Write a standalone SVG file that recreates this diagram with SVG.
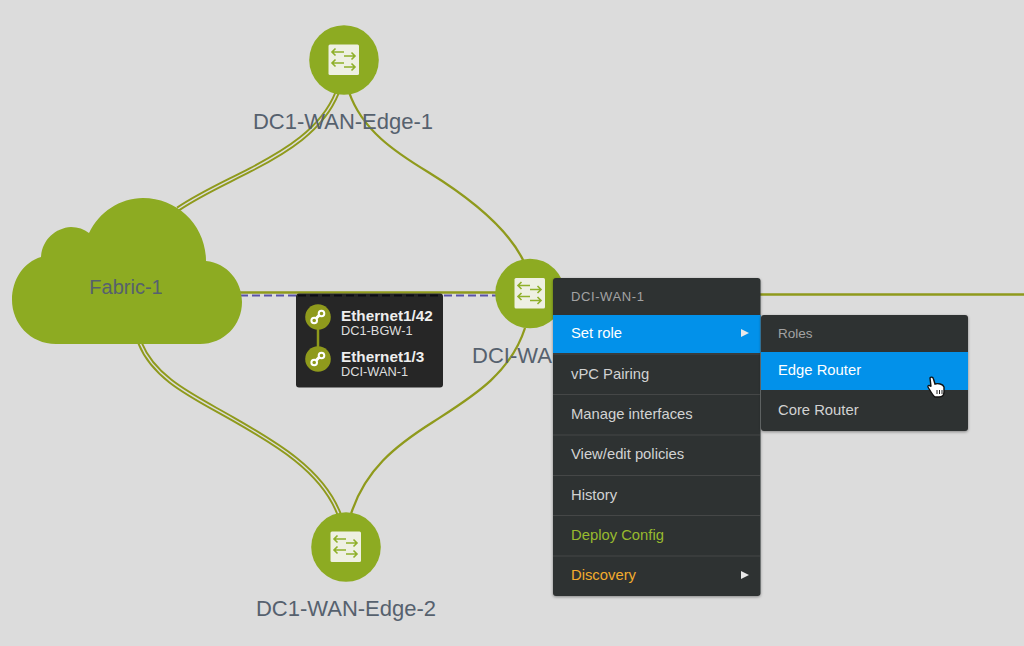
<svg xmlns="http://www.w3.org/2000/svg" width="1024" height="646" viewBox="0 0 1024 646">
<style>
text{font-family:"Liberation Sans",Arial,sans-serif}
.lnk{fill:none;stroke:#8f9a1c;stroke-width:2.300}
.dbl{fill:none;stroke:#8f9a1c;stroke-width:5.200}
.gap{fill:none;stroke:#dcdcdc;stroke-width:1.400}
.lbl{font-size:22px;fill:#56616e;text-anchor:middle}
.mi{font-size:14.800px;fill:#d2d2d2}
.sep{stroke:#454747;stroke-width:1.200}
.ic{fill:none;stroke:#8fb02a;stroke-width:1.600}
</style>
<defs>
<filter id="sh" x="-5%" y="-5%" width="110%" height="110%"><feDropShadow dx="0" dy="1" stdDeviation="1.500" flood-color="#000" flood-opacity=".4"/></filter>
<path id="e1" d="M178 209C200 194 225 183 250 170C285 152 322 130 337 93"/>
<path id="e2" d="M140 343C155 380 195 397 233 419C275 443 322 470 339 514"/>
<g id="sw">
<circle r="34.800" fill="#8dab22"/>
<rect x="-15.500" y="-15.500" width="30.500" height="30.500" rx="1.500" fill="#eef0e2"/>
<path class="ic" d="M-12-8H0M-8.500-11.500L-12-8L-8.500-4.500M0-4H11M7.500-7.500L11-4L7.500-.5M-12 3H0M-8.500-.5L-12 3L-8.500 6.500M0 7H11M7.500 3.500L11 7L7.500 10.500"/>
</g>
<g id="lk">
<circle r="12.800" fill="#8f9a1c"/>
<circle cx="-3.800" cy="3.500" r="2.800" fill="none" stroke="#fff" stroke-width="2"/>
<circle cx="3.500" cy="-3.500" r="2.800" fill="none" stroke="#fff" stroke-width="2"/>
<path d="M-2 1.500L1.500-2" stroke="#fff" stroke-width="3"/>
</g>
</defs>
<rect width="1024" height="646" fill="#dcdcdc"/>
<g id="connectors">
<use href="#e1" class="dbl"/>
<use href="#e1" class="gap"/>
<path class="lnk" d="M349 92C362 130 395 152 428 172C475 201 510 232 524 262"/>
<path class="lnk" d="M240 292.500H500"/>
<path d="M240 295.500H500" fill="none" stroke="#5a52a8" stroke-width="2" stroke-dasharray="8 4"/>
<path class="lnk" d="M760 294.500H1024"/>
<use href="#e2" class="dbl"/>
<use href="#e2" class="gap"/>
<path class="lnk" d="M525 328C510 375 470 398 433 422C395 446 365 470 351 514"/>
</g>
<g id="Fabric-1">
<path fill="#8dab22" d="M56 344C30 344 12 323 12 300C12 279 24 262 41 257C42 240 55 228 71 227C78 227 84 229 89 233C99 212 120 198 143 198C178 198 206 226 206 261C227 263 242 281 242 302C242 325 224 344 200 344Z"/>
<text x="126" y="294" font-size="20" fill="#56616e" text-anchor="middle">Fabric-1</text>
</g>
<g id="DC1-WAN-Edge-1">
<use href="#sw" x="344" y="60"/>
<text class="lbl" x="343" y="129">DC1-WAN-Edge-1</text>
</g>
<g id="DC1-WAN-Edge-2">
<use href="#sw" x="346" y="547"/>
<text class="lbl" x="346" y="616">DC1-WAN-Edge-2</text>
</g>
<g id="DCI-WAN-1">
<use href="#sw" x="530" y="293.500"/>
<text class="lbl" x="472" y="363" style="text-anchor:start">DCI-WAN-1</text>
</g>
<g id="tooltip">
<rect x="296" y="293.500" width="147" height="94" rx="3" fill="#262626"/>
<path d="M298 295.500H441" stroke="#0c0c14" stroke-width="2" stroke-dasharray="8 4"/>
<path d="M318 318V358" stroke="#8f9a1c" stroke-width="2.500"/>
<use href="#lk" x="318" y="317"/>
<use href="#lk" x="318" y="359"/>
<text x="341" y="320.500" font-size="15.300" font-weight="700" fill="#eeeeee">Ethernet1/42</text>
<text x="341" y="334.500" font-size="12.800" fill="#dedede">DC1-BGW-1</text>
<text x="341" y="362" font-size="15.300" font-weight="700" fill="#eeeeee">Ethernet1/3</text>
<text x="341" y="376" font-size="12.800" fill="#dedede">DCI-WAN-1</text>
</g>
<g id="context-menu">
<rect x="553" y="278" width="207.500" height="318" rx="3" fill="#2f3030" filter="url(#sh)"/>
<rect x="553" y="315" width="207.500" height="38" fill="#0291ea"/>
<path class="sep" d="M553 354H760M553 394.500H760M553 435H760M553 475.500H760M553 515.500H760M553 556H760"/>
<text x="571" y="301" font-size="13" letter-spacing=".6" fill="#a3a3a3">DCI-WAN-1</text>
<text class="mi" x="571" y="338" style="fill:#fff">Set role</text>
<path d="M741 329L749 333L741 337Z" fill="#e8e8e8"/>
<text class="mi" x="571" y="379">vPC Pairing</text>
<text class="mi" x="571" y="419">Manage interfaces</text>
<text class="mi" x="571" y="459">View/edit policies</text>
<text class="mi" x="571" y="500">History</text>
<text class="mi" x="571" y="540" style="fill:#98ba2e">Deploy Config</text>
<text class="mi" x="571" y="580" style="fill:#f2ac2d">Discovery</text>
<path d="M741 571L749 575L741 579Z" fill="#e8e8e8"/>
</g>
<g id="roles-menu">
<rect x="761" y="315" width="207" height="116" rx="3" fill="#2f3030" filter="url(#sh)"/>
<rect x="761" y="352" width="207" height="38" fill="#0291ea"/>
<text x="778" y="338" font-size="13.500" fill="#a3a3a3">Roles</text>
<text class="mi" x="778" y="375" style="fill:#fff">Edge Router</text>
<text class="mi" x="778" y="415">Core Router</text>
</g>
<g id="cursor">
<path d="M930 378C931 376.500 933 377 933.500 379L935 384C938 383 943 384 944 387V392C944 395 942 397 939 397H935C933 396 931 392 928 387C927.500 385 930 385 931 386.500Z" fill="#fff" stroke="#111" stroke-width="1.400"/>
<path d="M937 390V394M939.500 390V394M942 390V394" stroke="#222" stroke-width="1"/>
</g>
</svg>
